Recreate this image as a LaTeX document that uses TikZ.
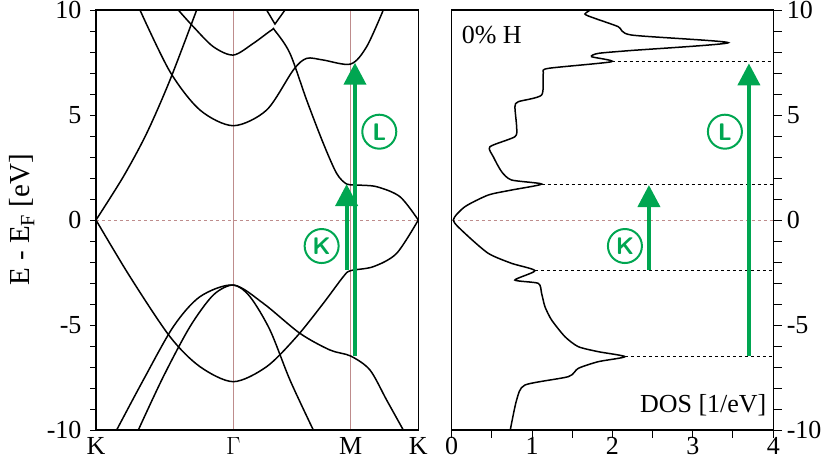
\documentclass[tikz,border=0pt]{standalone}
\usepackage{fontspec}
\setmainfont{Liberation Serif}
\usepackage{xcolor}
\usetikzlibrary{arrows.meta}
\definecolor{trgreen}{RGB}{0,166,81}
\definecolor{guide}{RGB}{190,140,140}
\begin{document}
\begin{tikzpicture}[x=1pt,y=1pt]
	\tikzset{band/.style = {black, line width=1.5pt},
			trans/.style = {trgreen, line width=4pt, -{Triangle[length=22pt,width=22pt]}},
			marker/.style = {circle, draw=trgreen, line width=2pt, text=trgreen,
				inner sep=0pt, minimum size=34pt, font=\sffamily\bfseries\fontsize{24}{26}\selectfont},
			lvl/.style = {black, dashed, line width=1pt},
			lbl/.style = {font=\fontsize{26}{30}\selectfont}}
	\useasboundingbox (0,0) rectangle (831,469);
	% band structure panel (zoom coordinates)
	\begin{scope}[x=0.3333pt, y=-0.3333pt, shift={(270,-1407)}]
		\draw[guide, line width=0.7pt] (430,30) -- (430,1290);
		\draw[guide, line width=0.7pt] (782,30) -- (782,1290);
		\draw[guide, dashed, line width=0.8pt] (18,660) -- (985,660);
		\begin{scope}
			\clip (18,30) rectangle (985,1290);
			\draw[band] plot[smooth] coordinates {(18,660)(100,530)(170,400)(240,240)(320,30)};
			\draw[band] plot[smooth] coordinates {(18,660)(120,830)(240,1010)(330,1100)(430,1145)(530,1100)(620,1010)(700,910)(760,830)(782,812)(850,800)(920,760)(985,660)};
			\draw[band] plot[smooth] coordinates {(985,660)(930,590)(860,560)(800,555)(770,552)(740,520)(700,430)(650,300)(600,160)(555,92)(545,90)(490,130)(430,165)(370,140)(310,80)(265,30)};
			\draw[band] plot[smooth] coordinates {(150,30)(240,215)(330,330)(430,377)(530,330)(610,210)(650,175)(700,180)(782,192)(830,140)(880,30)};
			\draw[band] (530,30) -- (555,72) -- (585,30);
			\draw[band] plot[smooth] coordinates {(80,1290)(160,1140)(250,980)(330,890)(430,855)(520,910)(630,1000)(720,1050)(782,1068)(840,1110)(890,1200)(940,1290)};
			\draw[band] plot[smooth] coordinates {(145,1290)(220,1130)(300,980)(370,885)(430,855)(480,890)(540,990)(600,1140)(670,1290)};
		\end{scope}
		\draw[black, line width=1.2pt] (18,30) rectangle (985,1290);
		% ticks
		\foreach \e in {-10,...,10}
			\draw[line width=1pt] (18,660-63*\e) -- (0,660-63*\e);
		\foreach \e in {-10,-5,0,5,10}
			\node[lbl, anchor=east] (ly\e) at (-15,660-63*\e) {\e};
		\node[lbl] (kA) at (18,1338) {K};
		\node[lbl] (gam) at (430,1338) {$\Gamma$};
		\node[lbl] (mm) at (782,1338) {M};
		\node[lbl] (kB) at (985,1338) {K};
		% transitions
		\coordinate (kS) at (770,810);
		\coordinate (kE) at (770,552);
		\coordinate (lS) at (795,1068);
		\coordinate (lE) at (795,188);
		\draw[trans] (kS) -- (kE);
		\draw[trans] (lS) -- (lE);
		\node[marker] (mK) at (695,738) {K};
		\node[marker] (mL) at (868,395) {L};
	\end{scope}
	% axis title
	\node[font=\fontsize{29}{32}\selectfont, rotate=90] (ytitle) at (22,249) {E - E$_{\mathrm{F}}$ [eV]};
	% DOS panel (zoom coordinates)
	\begin{scope}[x=0.3333pt, y=-0.3333pt, shift={(1335,-1407)}]
		\draw[guide, dashed, line width=0.8pt] (20,660) -- (985,660);
		\draw[lvl] (500,185) -- (985,185);
		\draw[lvl] (290,552) -- (985,552);
		\draw[lvl] (270,812) -- (985,812);
		\draw[lvl] (540,1070) -- (985,1070);
		\begin{scope}
			\clip (20,30) rectangle (985,1290);
			\draw[band] plot[smooth, tension=0.4] coordinates {(195,1295)(215,1200)(240,1155)(370,1130)(400,1105)(460,1085)(540,1070)(460,1055)(400,1040)(360,1010)(320,960)(300,920)(290,880)(280,850)(210,840)(270,812)(200,790)(130,760)(60,700)(25,660)(60,620)(130,585)(200,570)(290,552)(200,540)(170,515)(145,470)(135,440)(210,410)(215,380)(210,320)(220,305)(290,285)(295,220)(310,205)(500,185)(440,170)(460,160)(550,152)(850,128)(560,105)(520,80)(450,55)(420,42)(445,25)};
		\end{scope}
		\draw[black, line width=1.2pt] (20,30) rectangle (985,1290);
		% ticks
		\foreach \e in {-10,...,10}
			\draw[line width=1pt] (985,660-63*\e) -- (1010,660-63*\e);
		\foreach \e in {-10,-5,0,5,10}
			\node[lbl, anchor=west] (ry\e) at (1015,660-63*\e) {\e};
		\foreach \d in {0,...,8}
			\draw[line width=1pt] (20+120.6*\d,1290) -- (20+120.6*\d,1315);
		\foreach \d in {0,...,4}
			\node[lbl] (rx\d) at (20+241.25*\d,1338) {\d};
		\node[lbl, anchor=west] (conc) at (40,105) {0\% H};
		\node[lbl, anchor=east] (dosl) at (975,1215) {DOS [1/eV]};
		% transitions
		\coordinate (kS2) at (612,810);
		\coordinate (kE2) at (612,555);
		\coordinate (lS2) at (912,1068);
		\coordinate (lE2) at (912,190);
		\draw[trans] (kS2) -- (kE2);
		\draw[trans] (lS2) -- (lE2);
		\node[marker] (mK2) at (540,738) {K};
		\node[marker] (mL2) at (840,395) {L};
	\end{scope}
\end{tikzpicture}
\end{document}
